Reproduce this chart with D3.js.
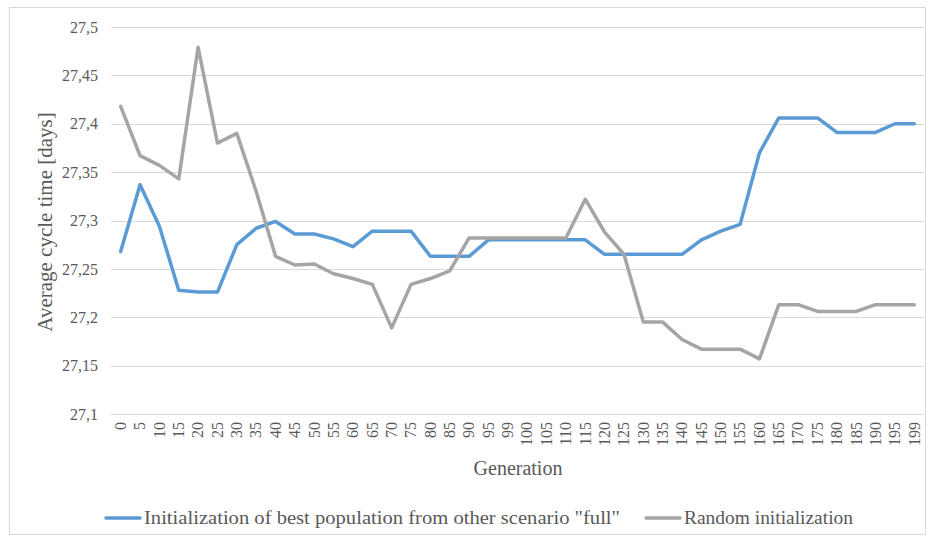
<!DOCTYPE html>
<html><head><meta charset="utf-8">
<script src="https://cdn.jsdelivr.net/npm/d3@7"></script>
<style>body{margin:0;background:#fff}svg{display:block}</style>
</head><body>
<svg id="c" width="931" height="539"></svg>
<script>
const generations = ["0","5","10","15","20","25","30","35","40","45","50","55","60","65","70","75","80","85","90","95","99","100","105","110","115","120","125","130","135","140","145","150","155","160","165","170","175","180","185","190","195","199"];
const bestInit = [27.268,27.337,27.294,27.228,27.226,27.226,27.275,27.292,27.299,27.286,27.286,27.281,27.273,27.289,27.289,27.289,27.263,27.263,27.263,27.28,27.28,27.28,27.28,27.28,27.28,27.265,27.265,27.265,27.265,27.265,27.28,27.289,27.296,27.37,27.406,27.406,27.406,27.391,27.391,27.391,27.40,27.40];
const randomInit = [27.418,27.367,27.357,27.343,27.479,27.38,27.39,27.33,27.263,27.254,27.255,27.245,27.24,27.234,27.189,27.234,27.24,27.248,27.282,27.282,27.282,27.282,27.282,27.282,27.322,27.288,27.265,27.195,27.195,27.177,27.167,27.167,27.167,27.157,27.213,27.213,27.206,27.206,27.206,27.213,27.213,27.213];
const yTicks = [27.1,27.15,27.2,27.25,27.3,27.35,27.4,27.45,27.5];
const seriesNames = ['Initialization of best population from other scenario "full"', 'Random initialization'];
const colors = ["#5B9BD5", "#A5A5A5"];

const FONT = '"Liberation Serif"';
const svg = d3.select("#c");
svg.append("rect").attr("x",9.5).attr("y",7.5).attr("width",916).attr("height",527).attr("fill","#fff").attr("stroke","#d9d9d9");

const x = d3.scaleBand().domain(generations).range([111,924]);
const y = d3.scaleLinear().domain([27.1,27.5]).range([414,27]);

svg.append("g").selectAll("line").data(yTicks).join("line")
 .attr("x1",111).attr("x2",924).attr("y1",d=>Math.round(y(d))+0.5).attr("y2",d=>Math.round(y(d))+0.5)
 .attr("stroke","#d9d9d9").attr("stroke-width",1);

const yAxis = d3.axisLeft(y).tickValues(yTicks).tickSize(0).tickPadding(13)
  .tickFormat(d=>String(+d.toFixed(2)).replace(".",","));
const ya = svg.append("g").attr("transform","translate(111,0)").call(yAxis);
ya.attr("font-family","Liberation Serif").style("font-family",FONT);
ya.select(".domain").remove();
ya.selectAll("text").style("font-family",FONT).attr("font-size",16).attr("fill","#595959");

const xAxis = d3.axisBottom(x).tickSize(0).tickPadding(0);
const xa = svg.append("g").attr("transform","translate(0,414)").call(xAxis);
xa.attr("font-family","Liberation Serif").style("font-family",FONT);
xa.select(".domain").attr("stroke","#d9d9d9").attr("d","M111,0.5H924");
xa.selectAll("text").style("font-family",FONT).attr("font-size",16).attr("fill","#595959")
  .attr("text-anchor","end").attr("dy","0.33em").attr("transform","translate(0,8) rotate(-90)").attr("x",0).attr("y",0);

const line = d3.line().x((d,i)=>x(generations[i])+x.bandwidth()/2).y(d=>y(d));
[bestInit, randomInit].forEach((s,k)=>{
  svg.append("path").datum(s).attr("d",line).attr("fill","none").attr("stroke",colors[k])
   .attr("stroke-width",3.5).attr("stroke-linejoin","round").attr("stroke-linecap","round");
});

svg.append("text").attr("transform","translate(52,222) rotate(-90)").attr("text-anchor","middle")
 .style("font-family",FONT).attr("font-size",21).attr("fill","#595959").text("Average cycle time  [days]");
svg.append("text").attr("x",518).attr("y",475).attr("text-anchor","middle")
 .style("font-family",FONT).attr("font-size",20).attr("fill","#595959").text("Generation");

const legX = [105, 645];
const legW = [476, 169];
seriesNames.forEach((n,k)=>{
  svg.append("line").attr("x1",legX[k]+1).attr("x2",legX[k]+35).attr("y1",518).attr("y2",518)
   .attr("stroke",colors[k]).attr("stroke-width",3.5).attr("stroke-linecap","round");
  svg.append("text").attr("x",legX[k]+39).attr("y",524).style("font-family",FONT).attr("font-size",18)
   .attr("textLength",legW[k]).attr("lengthAdjust","spacingAndGlyphs")
   .attr("fill","#595959").text(n);
});
</script>
</body></html>
